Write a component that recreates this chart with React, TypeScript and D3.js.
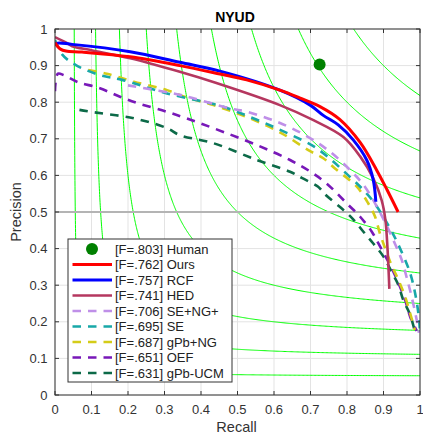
import React from 'react';
import * as d3 from 'd3';

// ---- data ----
const oursPts: [number, number][] = [
  [0, 0.963], [0.005, 0.955], [0.015, 0.945], [0.03, 0.94], [0.074, 0.937], [0.206, 0.924],
  [0.342, 0.9], [0.452, 0.877], [0.525, 0.861], [0.616, 0.833], [0.67, 0.812], [0.726, 0.788],
  [0.78, 0.753], [0.836, 0.69], [0.881, 0.615], [0.91, 0.56], [0.94, 0.5],
];
const rcfPts: [number, number][] = [
  [0, 0.955], [0.005, 0.961], [0.047, 0.958], [0.206, 0.938], [0.342, 0.909], [0.452, 0.885],
  [0.616, 0.833], [0.699, 0.792], [0.735, 0.764], [0.776, 0.738], [0.817, 0.697], [0.854, 0.642],
  [0.872, 0.587], [0.879, 0.528],
];
const hedPts: [number, number][] = [
  [0, 0.978], [0.032, 0.962], [0.047, 0.953], [0.1, 0.942], [0.206, 0.92], [0.342, 0.883],
  [0.44, 0.853], [0.616, 0.792], [0.708, 0.751], [0.79, 0.705], [0.836, 0.652], [0.872, 0.592],
  [0.895, 0.532], [0.905, 0.48], [0.911, 0.4], [0.916, 0.29],
];
const seNgPts: [number, number][] = [
  [0.2, 0.846], [0.342, 0.82], [0.479, 0.783], [0.525, 0.774], [0.607, 0.747], [0.685, 0.71],
  [0.753, 0.665], [0.817, 0.606], [0.849, 0.569], [0.895, 0.49], [0.932, 0.412], [0.95, 0.369],
  [0.963, 0.323], [0.977, 0.269], [0.991, 0.205], [0.997, 0.17],
];
const sePts: [number, number][] = [
  [0, 0.97], [0.02, 0.93], [0.056, 0.902], [0.123, 0.874], [0.184, 0.861], [0.307, 0.824],
  [0.452, 0.79], [0.553, 0.752], [0.635, 0.716], [0.717, 0.674], [0.808, 0.596], [0.845, 0.56],
  [0.877, 0.522], [0.918, 0.455], [0.941, 0.41], [0.973, 0.333], [0.99, 0.26], [0.998, 0.2],
  [1.0, 0.165],
];
const gpbNgPts: [number, number][] = [
  [0.091, 0.888], [0.142, 0.878], [0.216, 0.856], [0.307, 0.833], [0.355, 0.815], [0.434, 0.792],
  [0.534, 0.756], [0.621, 0.715], [0.694, 0.669], [0.735, 0.647], [0.767, 0.619], [0.827, 0.569],
  [0.858, 0.524], [0.877, 0.487], [0.89, 0.442], [0.922, 0.355], [0.941, 0.314], [0.959, 0.269],
  [0.973, 0.223], [0.986, 0.178],
];
const oefPts: [number, number][] = [
  [0, 0.83], [0.008, 0.878], [0.024, 0.874], [0.06, 0.856], [0.123, 0.838], [0.178, 0.815],
  [0.228, 0.797], [0.306, 0.774], [0.36, 0.756], [0.434, 0.729], [0.553, 0.683], [0.644, 0.642],
  [0.7, 0.61], [0.744, 0.578], [0.804, 0.519], [0.836, 0.487], [0.868, 0.446], [0.886, 0.414],
  [0.927, 0.337], [0.959, 0.26], [0.973, 0.214], [0.991, 0.175],
];
const gpbUcmPts: [number, number][] = [
  [0.067, 0.779], [0.096, 0.774], [0.216, 0.756], [0.307, 0.729], [0.342, 0.71], [0.434, 0.688],
  [0.553, 0.642], [0.644, 0.61], [0.676, 0.593], [0.721, 0.569], [0.74, 0.548], [0.785, 0.51],
  [0.817, 0.48], [0.845, 0.446], [0.872, 0.414], [0.9, 0.378], [0.922, 0.337], [0.941, 0.3],
  [0.954, 0.26], [0.973, 0.219], [0.986, 0.173],
];
const humanPt: [number, number] = [0.725, 0.903];

const legendLabels = [
  '[F=.803] Human', '[F=.762] Ours', '[F=.757] RCF', '[F=.741] HED', '[F=.706] SE+NG+',
  '[F=.695] SE', '[F=.687] gPb+NG', '[F=.651] OEF', '[F=.631] gPb-UCM',
];
const seriesColors = ['#008000', '#ff0000', '#0000ff', '#b5375f', '#bf8fe8', '#18a8a8', '#d4cc18', '#7818b8', '#0c6a48'];
const seriesDashed = [false, false, false, false, true, true, true, true, true];
const seriesWidths = [0, 3, 3, 2.6, 2.6, 2.6, 2.6, 2.6, 2.6];
const seriesPts = [null, oursPts, rcfPts, hedPts, seNgPts, sePts, gpbNgPts, oefPts, gpbUcmPts];

const fLevels = [0.1, 0.2, 0.3, 0.4, 0.5, 0.6, 0.7, 0.8, 0.9];
const tickVals = [0, 0.1, 0.2, 0.3, 0.4, 0.5, 0.6, 0.7, 0.8, 0.9, 1];
const tickLabels = ['0', '0.1', '0.2', '0.3', '0.4', '0.5', '0.6', '0.7', '0.8', '0.9', '1'];

const W = 423, H = 434;
const L = 55, R = 420, T = 29, B = 395;
const FONT = '"Liberation Sans", Arial, Helvetica, sans-serif';

export default function App() {
  const x = d3.scaleLinear().domain([0, 1]).range([L, R]);
  const y = d3.scaleLinear().domain([0, 1]).range([B, T]);
  const line = d3.line<[number, number]>().x(d => x(d[0])).y(d => y(d[1])).curve(d3.curveCatmullRom.alpha(0.5));
  const straight = d3.line<[number, number]>().x(d => x(d[0])).y(d => y(d[1]));

  const contours = fLevels.map(F => {
    const pts: [number, number][] = [];
    const r0 = F / 2;
    for (let i = 1; i <= 600; i++) {
      const s = i / 600;
      const r = r0 + (1 - r0) * s * s * s;
      const p = (F * r) / (2 * r - F);
      if (p > 1.2) continue;
      pts.push([r, p]);
    }
    return pts;
  });

  const legX = 68, legY = 239, legW = 164, legH = 143;
  const rowY = (i: number) => 249 + i * 15.5;

  return (
    <svg width={W} height={H} style={{ position: 'absolute', left: 0, top: 0, display: 'block', background: '#fff' }} fontFamily={FONT}>
      <defs>
        <clipPath id="plotclip">
          <rect x={L} y={T} width={R - L} height={B - T} />
        </clipPath>
      </defs>
      <rect x={0} y={0} width={W} height={H} fill="#fff" />
      {/* grid */}
      {tickVals.map((v, i) => (
        <g key={'g' + i}>
          <line x1={x(v)} x2={x(v)} y1={T} y2={B} stroke="#e3e3e3" strokeWidth={1} />
          <line x1={L} x2={R} y1={y(v)} y2={y(v)} stroke="#e3e3e3" strokeWidth={1} />
        </g>
      ))}
      <g clipPath="url(#plotclip)">
        {contours.map((c, i) => (
          <path key={'c' + i} d={straight(c) || ''} fill="none" stroke="#00ff00" strokeWidth={1} />
        ))}
        <line x1={L} x2={R} y1={y(0.5)} y2={y(0.5)} stroke="#b4b4b4" strokeWidth={2.2} />
        {seriesPts.map((_, k) => {
          const i = seriesPts.length - 1 - k;
          const pts = seriesPts[i];
          if (!pts) return null;
          return (
            <path key={'s' + i} d={line(pts) || ''} fill="none" stroke={seriesColors[i]}
              strokeWidth={seriesWidths[i]} strokeDasharray={seriesDashed[i] ? '8.5,7' : undefined}
              strokeLinejoin="round" />
          );
        })}
        <circle cx={x(humanPt[0])} cy={y(humanPt[1])} r={6} fill={seriesColors[0]} />
      </g>
      {/* axes box */}
      <rect x={L} y={T} width={R - L} height={B - T} fill="none" stroke="#333" strokeWidth={1} />
      {tickVals.map((v, i) => (
        <g key={'t' + i} stroke="#333" strokeWidth={1}>
          <line x1={x(v)} x2={x(v)} y1={B} y2={B - 4} />
          <line x1={x(v)} x2={x(v)} y1={T} y2={T + 4} />
          <line x1={L} x2={L + 4} y1={y(v)} y2={y(v)} />
          <line x1={R} x2={R - 4} y1={y(v)} y2={y(v)} />
        </g>
      ))}
      {tickVals.map((v, i) => (
        <text key={'xl' + i} x={x(v)} y={413.5} textAnchor="middle" fontSize={13} fill="#333">{tickLabels[i]}</text>
      ))}
      {tickVals.map((v, i) => (
        <text key={'yl' + i} x={47.5} y={y(v) + 4.5} textAnchor="end" fontSize={13} fill="#333">{tickLabels[i]}</text>
      ))}
      <text x={236.5} y={432} textAnchor="middle" fontSize={14.5} fill="#333">Recall</text>
      <text transform={`translate(21,${(T + B) / 2}) rotate(-90)`} textAnchor="middle" fontSize={14.5} fill="#333">Precision</text>
      <text x={235} y={22} textAnchor="middle" fontSize={14} fontWeight="bold" fill="#000">NYUD</text>
      {/* legend */}
      <rect x={legX} y={legY} width={legW} height={legH} fill="#fff" stroke="#333" strokeWidth={1} />
      {legendLabels.map((lab, i) => (
        <g key={'lg' + i}>
          {i === 0 ? (
            <circle cx={92} cy={rowY(i)} r={6} fill={seriesColors[0]} />
          ) : (
            <line x1={72.5} x2={112} y1={rowY(i)} y2={rowY(i)} stroke={seriesColors[i]}
              strokeWidth={seriesWidths[i]} strokeDasharray={seriesDashed[i] ? '8.5,7' : undefined} />
          )}
          <text x={115} y={rowY(i) + 4.5} fontSize={13} fill="#222">{lab}</text>
        </g>
      ))}
    </svg>
  );
}
